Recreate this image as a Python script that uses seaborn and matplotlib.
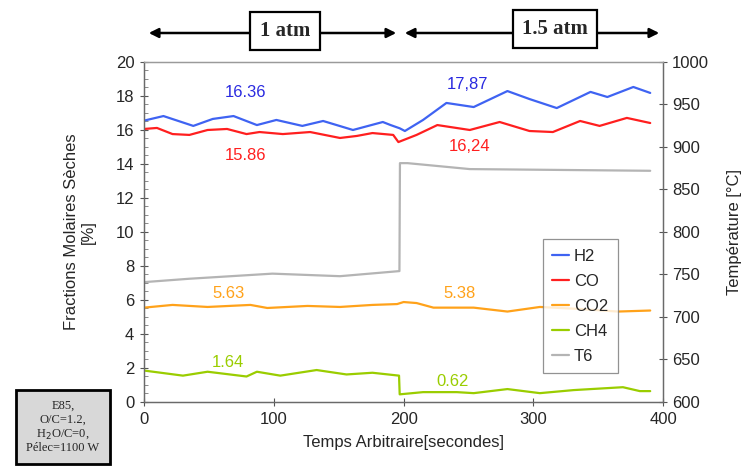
import matplotlib
matplotlib.use("Agg")
import matplotlib.pyplot as plt
import matplotlib.patches as mpatches
from matplotlib.ticker import MultipleLocator
import seaborn as sns
import pandas as pd

# --- data ---
h2_t = [0, 15, 38, 53, 69, 87, 102, 122, 138, 161, 184, 190, 197, 201, 215, 233, 254, 280, 297, 318, 344, 357, 377, 390]
h2_v = [16.55, 16.82, 16.24, 16.65, 16.82, 16.29, 16.59, 16.24, 16.53, 16.0, 16.47, 16.29, 16.1, 15.94, 16.59, 17.59, 17.35, 18.29, 17.82, 17.29, 18.24, 17.94, 18.53, 18.18]

co_t = [0, 10, 22, 35, 49, 64, 79, 89, 107, 128, 151, 164, 176, 192, 196, 210, 226, 251, 274, 297, 315, 336, 351, 372, 390]
co_v = [16.06, 16.12, 15.76, 15.71, 16.0, 16.06, 15.76, 15.88, 15.76, 15.88, 15.53, 15.65, 15.82, 15.71, 15.29, 15.71, 16.29, 16.0, 16.47, 15.94, 15.88, 16.53, 16.24, 16.71, 16.41]

co2_t = [0, 22, 49, 82, 95, 126, 151, 176, 195, 200, 210, 223, 254, 280, 305, 336, 365, 390]
co2_v = [5.55, 5.71, 5.59, 5.71, 5.53, 5.65, 5.59, 5.71, 5.76, 5.88, 5.82, 5.55, 5.55, 5.32, 5.59, 5.47, 5.32, 5.38]

ch4_t = [0, 30, 49, 79, 87, 105, 133, 156, 176, 196.5, 197, 215, 241, 254, 280, 305, 331, 369, 382, 390]
ch4_v = [1.85, 1.55, 1.78, 1.5, 1.78, 1.55, 1.88, 1.62, 1.72, 1.55, 0.45, 0.58, 0.58, 0.52, 0.76, 0.52, 0.7, 0.87, 0.64, 0.64]

t6_t = [0, 35, 99, 151, 196.8, 197.2, 203, 251, 390]
t6_v = [741, 745, 751, 748, 754, 881, 881, 874, 872]

series_names = ["H2", "CO", "CO2", "CH4"]
colors = {"H2": "#3f63f2", "CO": "#ff1f1f", "CO2": "#ffa21a", "CH4": "#9acd00", "T6": "#b4b4b4"}

labels = [("16.36", 78, 18.2, "#2a2ae0"), ("15.86", 78, 14.5, "#ff1f1f"),
          ("17,87", 249, 18.65, "#2a2ae0"), ("16,24", 251, 15.0, "#ff1f1f"),
          ("5.63", 65, 6.4, "#ffa21a"), ("5.38", 243, 6.4, "#ffa21a"),
          ("1.64", 65, 2.3, "#9acd00"), ("0.62", 238, 1.2, "#9acd00")]

frames = []
for name, t, v in [("H2", h2_t, h2_v), ("CO", co_t, co_v), ("CO2", co2_t, co2_v), ("CH4", ch4_t, ch4_v)]:
    frames.append(pd.DataFrame({"t": t, "v": v, "gaz": name}))
gas = pd.concat(frames, ignore_index=True)
temp = pd.DataFrame({"t": t6_t, "v": t6_v})

sns.set_style("white")
plt.rcParams["font.family"] = ["Liberation Sans", "DejaVu Sans"]

fig = plt.figure(figsize=(7.46, 4.75), dpi=100)
ax = fig.add_axes([0.193, 0.1537, 0.696, 0.7158])
ax2 = ax.twinx()

sns.lineplot(data=temp, x="t", y="v", ax=ax2, color=colors["T6"], linewidth=1.6, legend=False)
sns.lineplot(data=gas, x="t", y="v", hue="gaz", hue_order=series_names, palette=colors,
             ax=ax, linewidth=1.6, legend=False)

ax.set_zorder(ax2.get_zorder() + 1)
ax.patch.set_visible(False)

ax.set_xlim(0, 400)
ax.set_ylim(0, 20)
ax2.set_ylim(600, 1000)
ax.xaxis.set_major_locator(MultipleLocator(100))
ax.yaxis.set_major_locator(MultipleLocator(2))
ax.yaxis.set_minor_locator(MultipleLocator(0.5))
ax2.yaxis.set_major_locator(MultipleLocator(50))

ax.tick_params(axis="both", which="major", direction="inout", length=6, width=0.8,
               color="#555555", labelsize=12, pad=4, left=True, bottom=True)
ax.tick_params(axis="y", which="minor", direction="in", length=3, width=0.6, color="#777777", left=True)
ax2.tick_params(axis="y", which="major", direction="inout", length=6, width=0.8,
                color="#555555", labelsize=12, right=True)

for a in (ax, ax2):
    for side, sp in a.spines.items():
        sp.set_linewidth(0.9)
        sp.set_color("#6a6a6a" if side in ("left", "bottom", "right") else "#9a9a9a")
        sp.set_visible(True)

ax.set_xlabel("Temps Arbitraire[secondes]", fontsize=12, labelpad=6)
ax.set_ylabel("Fractions Molaires Sèches\n[%]", fontsize=12, labelpad=14)
ax2.set_ylabel("Température [°C]", fontsize=12, labelpad=13)

for txt, x, y, c in labels:
    ax.text(x, y, txt, color=c, fontsize=12, ha="center", va="center")

handles = [plt.Line2D([], [], color=colors[n], linewidth=1.6) for n in series_names + ["T6"]]
leg = ax.legend(handles, series_names + ["T6"], loc="upper left", bbox_to_anchor=(0.769, 0.478),
                fontsize=12, frameon=True, fancybox=False, handlelength=1.0, handletextpad=0.3,
                borderpad=0.55, labelspacing=0.6, borderaxespad=0)
leg.get_frame().set_edgecolor("#777777")
leg.get_frame().set_linewidth(0.9)

# pressure arrows and boxes above the plot
serif = ["Liberation Serif", "DejaVu Serif"]
arrow_kw = dict(arrowstyle="<|-|>", color="black", lw=1.8, mutation_scale=14)
fig.patches.append(mpatches.FancyArrowPatch((146 / 746, 1 - 33 / 475), (399 / 746, 1 - 33 / 475),
                                            transform=fig.transFigure, **arrow_kw))
fig.patches.append(mpatches.FancyArrowPatch((402 / 746, 1 - 33 / 475), (662 / 746, 1 - 33 / 475),
                                            transform=fig.transFigure, **arrow_kw))
box_kw = dict(boxstyle="square,pad=0.45", facecolor="white", edgecolor="black", linewidth=1.6)
fig.text(285 / 746, 1 - 31 / 475, "1 atm", family=serif, fontsize=15, fontweight="bold",
         ha="center", va="center", bbox=box_kw)
fig.text(555 / 746, 1 - 29 / 475, "1.5 atm", family=serif, fontsize=15, fontweight="bold",
         ha="center", va="center", bbox=box_kw)

fig.text(63 / 746, 1 - 427 / 475, "E85,\nO/C=1.2,\nH$_2$O/C=0,\nPélec=1100 W", family=serif,
         fontsize=9, ha="center", va="center", linespacing=1.2,
         bbox=dict(boxstyle="square,pad=0.8", facecolor="#d8d8d8", edgecolor="black", linewidth=2))

fig.savefig("out.png", dpi=100)
plt.close()
